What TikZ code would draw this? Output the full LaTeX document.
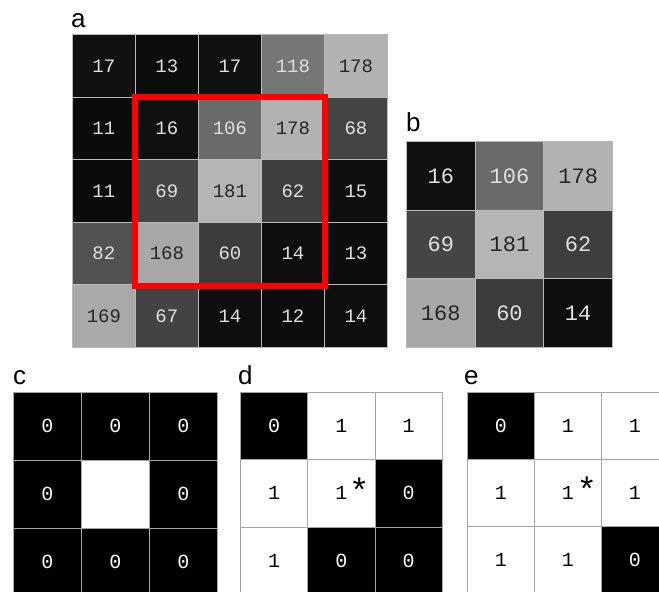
\documentclass[tikz,border=0pt]{standalone}
\usepackage{fontspec}
\setmainfont{Liberation Sans}
\setmonofont{Liberation Mono}
\usetikzlibrary{positioning,fit,calc}

\begin{document}
\begin{tikzpicture}[
  x=1pt, y=-1pt,
  cell/.style={draw=gray!55, line width=0.8pt, minimum size=#1, inner sep=0pt, anchor=north west},
  grey/.style={cell=#1, font=\ttfamily\fontsize{19}{19}\selectfont},
  bit/.style={cell=#1, draw=gray!70, font=\ttfamily\fontsize{20}{20}\selectfont},
  lbl/.style={anchor=base west, inner sep=0pt, font=\fontsize{26}{26}\selectfont},
  ast/.style={anchor=north, inner sep=0pt, font=\ttfamily\fontsize{34}{34}\selectfont},
  win/.style={draw=red, line width=6pt, inner sep=0pt}
]
\useasboundingbox (0,0) rectangle (659,592);
\clip (0,0) rectangle (659,592);

% a: 5x5 image patch
\foreach \v [count=\i from 0] in {17,13,17,118,178, 11,16,106,178,68, 11,69,181,62,15, 82,168,60,14,13, 169,67,14,12,14} {
  \pgfmathtruncatemacro\row{\i/5}
  \pgfmathtruncatemacro\col{mod(\i,5)}
  \pgfmathsetmacro\lvl{\v/2.55}
  \ifnum\v>150 \def\ink{black!85}\else\def\ink{white!88!black}\fi
  \node[grey=63pt, fill=white!\lvl!black, text=\ink] (a-\row-\col) at ({72+63*\col},{34+62.6*\row}) {\v};
}
\node[win, fit=(a-1-1)(a-3-3)] (window) {};
\node[lbl] (lab-a) at (71,27) {a};

% b: the 3x3 window
\foreach \v [count=\i from 0] in {16,106,178, 69,181,62, 168,60,14} {
  \pgfmathtruncatemacro\row{\i/3}
  \pgfmathtruncatemacro\col{mod(\i,3)}
  \pgfmathsetmacro\lvl{\v/2.55}
  \ifnum\v>150 \def\ink{black!85}\else\def\ink{white!88!black}\fi
  \node[grey=68.7pt, fill=white!\lvl!black, text=\ink, font=\ttfamily\fontsize{22}{22}\selectfont] (b-\row-\col) at ({406+68.7*\col},{141+68.7*\row}) {\v};
}
\node[lbl] (lab-b) at (406,131) {b};

% c, d, e: binary patterns
\foreach \v [count=\i from 0] in {0,0,0, 0,-,0, 0,0,0} {
  \pgfmathtruncatemacro\row{\i/3}
  \pgfmathtruncatemacro\col{mod(\i,3)}
  \if0\v\def\bg{black}\def\ink{white}\else\def\bg{white}\def\ink{black}\fi
  \node[bit=68pt, fill=\bg, text=\ink] (c-\row-\col) at ({13+68*\col},{392+68*\row}) {\if-\v\else\v\fi};
}
\node[lbl] (lab-c) at (13,384) {c};

\foreach \v [count=\i from 0] in {0,1,1, 1,1,0, 1,0,0} {
  \pgfmathtruncatemacro\row{\i/3}
  \pgfmathtruncatemacro\col{mod(\i,3)}
  \if0\v\def\bg{black}\def\ink{white}\else\def\bg{white}\def\ink{black}\fi
  \node[bit=67.3pt, fill=\bg, text=\ink] (d-\row-\col) at ({240+67.3*\col},{392+67.3*\row}) {\v};
}
\node[ast] (d-star) at ($(d-1-1.center)+(18,-16)$) {*};
\node[lbl] (lab-d) at (238,384) {d};

\foreach \v [count=\i from 0] in {0,1,1, 1,1,1, 1,1,0} {
  \pgfmathtruncatemacro\row{\i/3}
  \pgfmathtruncatemacro\col{mod(\i,3)}
  \if0\v\def\bg{black}\def\ink{white}\else\def\bg{white}\def\ink{black}\fi
  \node[bit=67pt, fill=\bg, text=\ink] (e-\row-\col) at ({467+67*\col},{392+67*\row}) {\v};
}
\node[ast] (e-star) at ($(e-1-1.center)+(19,-16)$) {*};
\node[lbl] (lab-e) at (464,384) {e};
\end{tikzpicture}
\end{document}
